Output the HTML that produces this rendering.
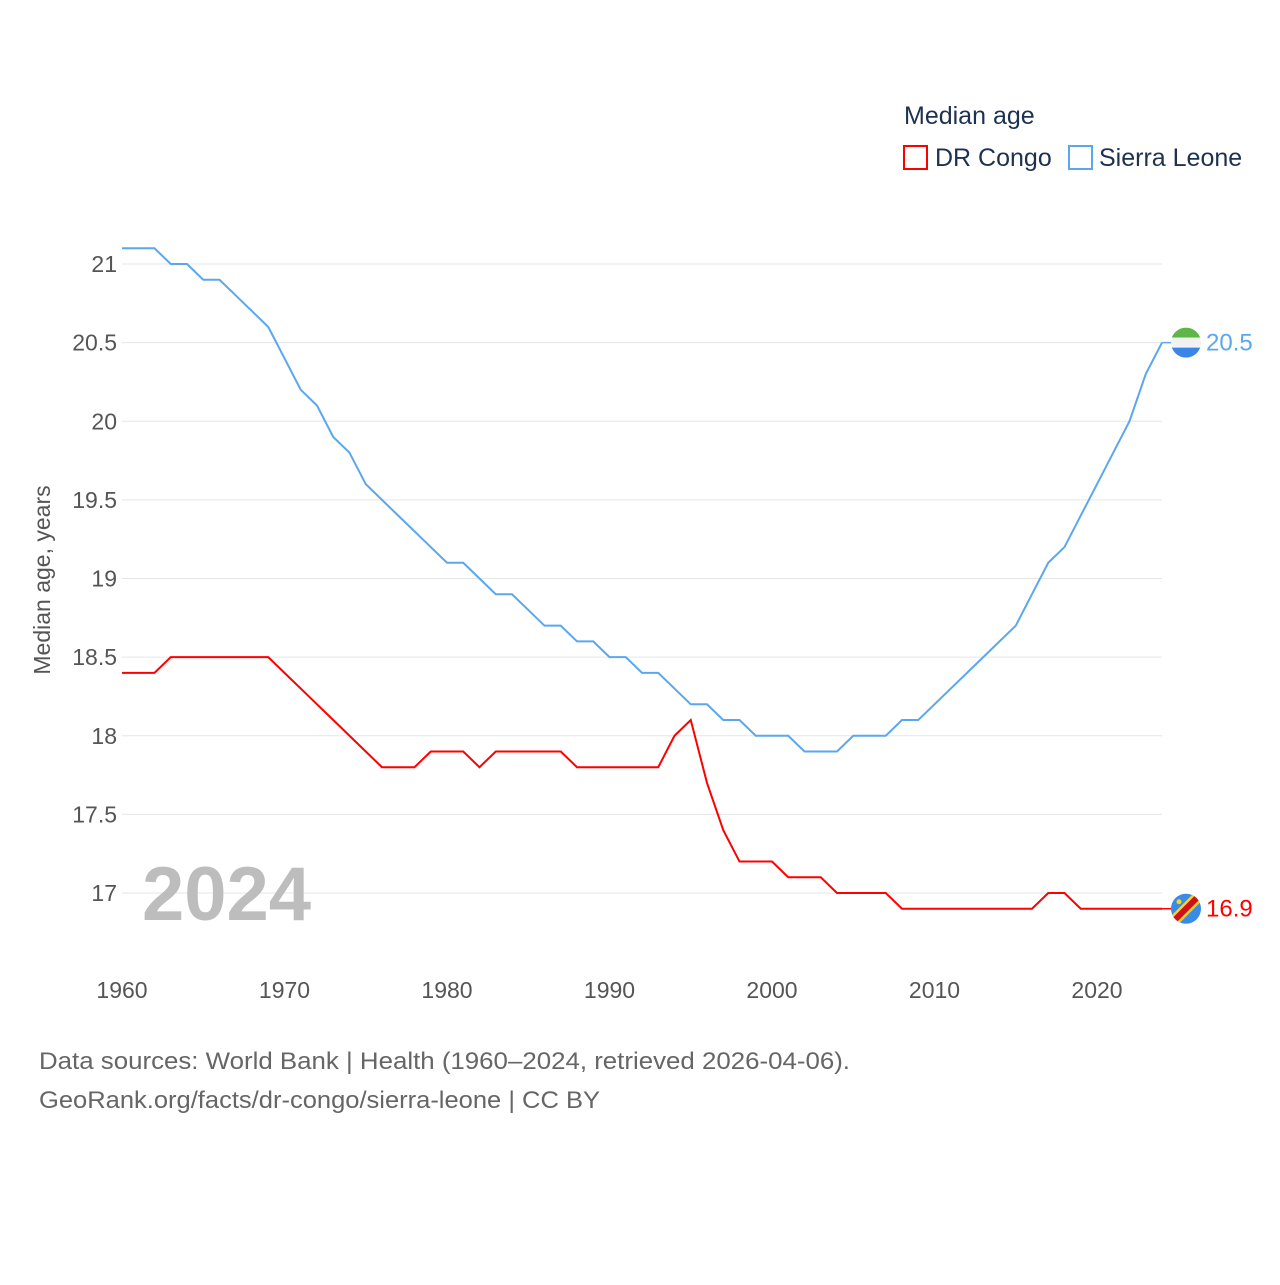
<!DOCTYPE html>
<html><head><meta charset="utf-8">
<style>
body{margin:0;background:#fff;font-family:"Liberation Sans",sans-serif;}
svg text{font-family:"Liberation Sans",sans-serif;}
</style></head>
<body>
<svg id="chart" width="1280" height="1280" viewBox="0 0 1280 1280" xmlns="http://www.w3.org/2000/svg">
<g>
<text x="904" y="124" font-size="25" fill="#1d3150">Median age</text>
<rect x="904" y="146" width="23" height="23" fill="none" stroke="#ff0000" stroke-width="2"/>
<text x="935" y="166" font-size="25" fill="#1d3150">DR Congo</text>
<rect x="1069" y="146" width="23" height="23" fill="none" stroke="#5ba7ee" stroke-width="2"/>
<text x="1099" y="166" font-size="25" fill="#1d3150">Sierra Leone</text>
</g>
<g id="grid"></g>
<g id="yticks"></g>
<g id="xticks"></g>
<text transform="translate(50,580) rotate(-90)" text-anchor="middle" font-size="23" fill="#555">Median age, years</text>
<text x="142" y="920" font-size="76" font-weight="bold" fill="#bdbdbd">2024</text>
<g id="series"></g>
<text x="39" y="1069" font-size="24" fill="#666" textLength="811" lengthAdjust="spacingAndGlyphs">Data sources: World Bank | Health (1960–2024, retrieved 2026-04-06).</text>
<text x="39" y="1108" font-size="24" fill="#666" textLength="561" lengthAdjust="spacingAndGlyphs">GeoRank.org/facts/dr-congo/sierra-leone | CC BY</text>
</svg>
<script>
const years = [];
for (let y = 1960; y <= 2024; y++) years.push(y);
const sierraLeone = [21.1,21.1,21.1,21.0,21.0,20.9,20.9,20.8,20.7,20.6,20.4,20.2,20.1,19.9,19.8,19.6,19.5,19.4,19.3,19.2,19.1,19.1,19.0,18.9,18.9,18.8,18.7,18.7,18.6,18.6,18.5,18.5,18.4,18.4,18.3,18.2,18.2,18.1,18.1,18.0,18.0,18.0,17.9,17.9,17.9,18.0,18.0,18.0,18.1,18.1,18.2,18.3,18.4,18.5,18.6,18.7,18.9,19.1,19.2,19.4,19.6,19.8,20.0,20.3,20.5];
const drCongo = [18.4,18.4,18.4,18.5,18.5,18.5,18.5,18.5,18.5,18.5,18.4,18.3,18.2,18.1,18.0,17.9,17.8,17.8,17.8,17.9,17.9,17.9,17.8,17.9,17.9,17.9,17.9,17.9,17.8,17.8,17.8,17.8,17.8,17.8,18.0,18.1,17.7,17.4,17.2,17.2,17.2,17.1,17.1,17.1,17.0,17.0,17.0,17.0,16.9,16.9,16.9,16.9,16.9,16.9,16.9,16.9,16.9,17.0,17.0,16.9,16.9,16.9,16.9,16.9,16.9];
const yTicks = [17,17.5,18,18.5,19,19.5,20,20.5,21];
const xTicks = [1960,1970,1980,1990,2000,2010,2020];

const NS = "http://www.w3.org/2000/svg";
function xs(v){ return 122 + (v - 1960) * 16.25; }
function ys(v){ return 893 - (v - 17) * 157.25; }
function mk(tag, attrs, parent){ const e = document.createElementNS(NS, tag); for (const k in attrs) e.setAttribute(k, attrs[k]); parent.appendChild(e); return e; }

const grid = document.getElementById('grid'), yt = document.getElementById('yticks'), xt = document.getElementById('xticks'), ser = document.getElementById('series');
yTicks.forEach(t => {
  const l = mk('line', {x1:122, x2:1162, y1:ys(t), y2:ys(t), stroke:'#e6e6e6', 'stroke-width':1}, grid);
  
  
  const tx = mk('text', {x:117, y:ys(t)+8, 'text-anchor':'end', 'font-size':23, fill:'#555'}, yt);
  tx.textContent = String(t);
  
  
});
xTicks.forEach(t => {
  const tx = mk('text', {x:xs(t), y:998, 'text-anchor':'middle', 'font-size':23, fill:'#555'}, xt);
  tx.textContent = String(t);
  
  
});
function line(vals, color, name){
  const d = vals.map((v,i) => (i ? 'L' : 'M') + xs(years[i]) + ',' + ys(v)).join(' ');
  const p = mk('path', {d:d, fill:'none', stroke:color, 'stroke-width':2}, ser);
  
  
  const last = vals[vals.length-1], lx = xs(years[years.length-1]);
  mk('line', {x1:lx, x2:lx+10, y1:ys(last), y2:ys(last), stroke:color, 'stroke-width':1.5}, ser);
  const lab = mk('text', {x:1206, y:ys(last)+8, 'font-size':24, fill:color}, ser);
  lab.textContent = String(last);
  
  
}
line(sierraLeone, '#5ba7ee', 'line-sierra-leone');
line(drCongo, '#ff0000', 'line-dr-congo');

const sl = ys(sierraLeone[sierraLeone.length-1]);
const fs = mk('g', {}, ser);


const cp1 = mk('clipPath', {id:'c1'}, fs);
mk('circle', {cx:1186, cy:sl, r:15}, cp1);
mk('rect', {x:1171, y:sl-15, width:30, height:10, fill:'#5eb646', 'clip-path':'url(#c1)'}, fs);
mk('rect', {x:1171, y:sl-5, width:30, height:10, fill:'#f2f2f2', 'clip-path':'url(#c1)'}, fs);
mk('rect', {x:1171, y:sl+5, width:30, height:10, fill:'#3a86e8', 'clip-path':'url(#c1)'}, fs);
const dc = ys(drCongo[drCongo.length-1]);
const fd = mk('g', {}, ser);


const cp = mk('clipPath', {id:'c2'}, fd);
mk('circle', {cx:1186, cy:dc, r:15}, cp);
mk('circle', {cx:1186, cy:dc, r:15, fill:'#3a8ae8'}, fd);
mk('line', {x1:1171, y1:dc+15, x2:1201, y2:dc-15, stroke:'#f7d618', 'stroke-width':11, 'clip-path':'url(#c2)'}, fd);
mk('line', {x1:1171, y1:dc+15, x2:1201, y2:dc-15, stroke:'#ce1021', 'stroke-width':6, 'clip-path':'url(#c2)'}, fd);
mk('circle', {cx:1179, cy:dc-7, r:2.5, fill:'#f7d618'}, fd);
</script>
</body></html>
